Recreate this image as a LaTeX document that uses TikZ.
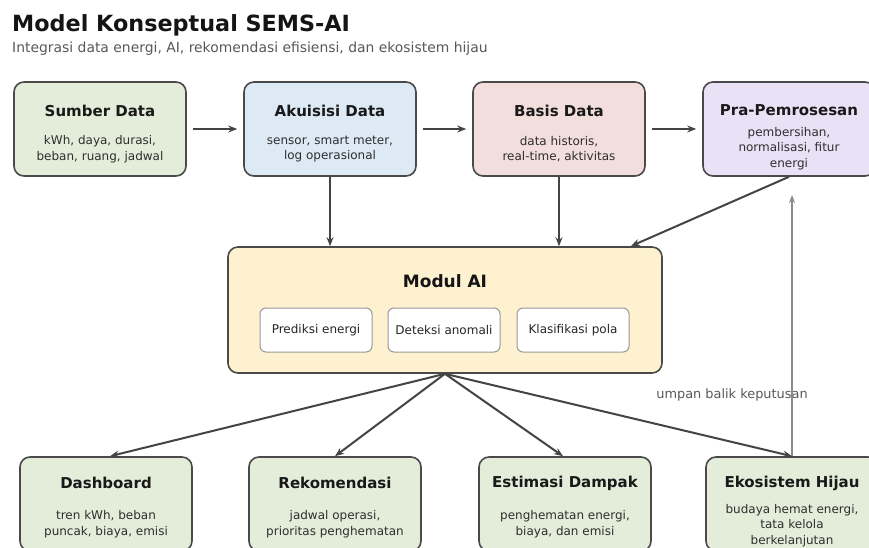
\documentclass[tikz,border=0pt]{standalone}
\usepackage{fontspec}
\setmainfont{DejaVu Sans}
\usetikzlibrary{arrows.meta,calc}
\definecolor{cgreen}{HTML}{E4EDDA}
\definecolor{cblue}{HTML}{DDE9F5}
\definecolor{cpink}{HTML}{F2DEDC}
\definecolor{cpurple}{HTML}{E9E2F6}
\definecolor{cyellow}{HTML}{FDF1CF}
\definecolor{cborder}{HTML}{4A4A4A}
\definecolor{carrow}{HTML}{444444}
\definecolor{cfeed}{HTML}{8A8A8A}
\begin{document}
\begin{tikzpicture}[x=1pt,y=-1pt,
 box/.style={draw=cborder, line width=1.6pt, rounded corners=10pt, minimum width=172pt, minimum height=94pt, inner sep=0pt},
 ttl/.style={font=\fontsize{15}{18}\selectfont\bfseries, text=black!90, inner sep=0pt},
 body/.style={font=\fontsize{12}{15.5}\selectfont, text=black!82, align=center, inner sep=0pt},
 subbox/.style={draw=black!40, line width=1pt, fill=white, rounded corners=6pt, minimum width=112pt, minimum height=44pt, inner sep=0pt, font=\fontsize{12}{14}\selectfont, text=black!85},
 arr/.style={draw=carrow, line width=2pt, -{Stealth[length=9pt,width=7pt]}},
 fb/.style={draw=cfeed, line width=1.6pt, -{Stealth[length=8pt,width=6pt]}},
]
\useasboundingbox (0,0) rectangle (869,548);
\clip (0,0) rectangle (869,548);
\fill[white] (0,0) rectangle (869,548);

% titles
\node[anchor=base west, inner sep=0pt, font=\fontsize{22.3}{26}\selectfont\bfseries, text=black!92] (title) at (12,32) {Model Konseptual SEMS-AI};
\node[anchor=base west, inner sep=0pt, font=\fontsize{13.9}{16}\selectfont, text=black!65] (subtitle) at (12,53) {Integrasi data energi, AI, rekomendasi efisiensi, dan ekosistem hijau};

% top row
\node[box, fill=cgreen] (sumber) at (100,129) {};
\node[ttl] (sumberT) at ($(sumber.north)+(0,30)$) {Sumber Data};
\node[body] (sumberB) at ($(sumber.north)+(0,68)$) {kWh, daya, durasi,\\beban, ruang, jadwal};

\node[box, fill=cblue] (aku) at (330,129) {};
\node[ttl] (akuT) at ($(aku.north)+(0,30)$) {Akuisisi Data};
\node[body] (akuB) at ($(aku.north)+(0,68)$) {sensor, smart meter,\\log operasional};

\node[box, fill=cpink] (basis) at (559,129) {};
\node[ttl] (basisT) at ($(basis.north)+(0,30)$) {Basis Data};
\node[body] (basisB) at ($(basis.north)+(0,68)$) {data historis,\\real-time, aktivitas};

\node[box, fill=cpurple] (pra) at (789,129) {};
\node[ttl] (praT) at ($(pra.north)+(0,29)$) {Pra-Pemrosesan};
\node[body] (praB) at ($(pra.north)+(0,67)$) {pembersihan,\\normalisasi, fitur\\energi};

% AI module
\node[box, fill=cyellow, minimum width=434pt, minimum height=126pt] (ai) at (445,310) {};
\node[inner sep=0pt, font=\fontsize{17}{20}\selectfont\bfseries, text=black!92] (aiT) at (445,281) {Modul AI};
\node[subbox] (pred) at (316,330) {Prediksi energi};
\node[subbox] (det) at (444,330) {Deteksi anomali};
\node[subbox] (kla) at (573,330) {Klasifikasi pola};

% bottom row
\node[box, fill=cgreen] (dash) at (106,504) {};
\node[ttl] (dashT) at ($(dash.north)+(0,27)$) {Dashboard};
\node[body] (dashB) at ($(dash.north)+(0,68)$) {tren kWh, beban\\puncak, biaya, emisi};

\node[box, fill=cgreen] (rek) at (335,504) {};
\node[ttl] (rekT) at ($(rek.north)+(0,27)$) {Rekomendasi};
\node[body] (rekB) at ($(rek.north)+(0,68)$) {jadwal operasi,\\prioritas penghematan};

\node[box, fill=cgreen] (est) at (565,504) {};
\node[ttl] (estT) at ($(est.north)+(0,27)$) {Estimasi Dampak};
\node[body] (estB) at ($(est.north)+(0,68)$) {penghematan energi,\\biaya, dan emisi};

\node[box, fill=cgreen] (eko) at (792,504) {};
\node[ttl] (ekoT) at ($(eko.north)+(0,27)$) {Ekosistem Hijau};
\node[body] (ekoB) at ($(eko.north)+(0,69)$) {budaya hemat energi,\\tata kelola\\berkelanjutan};

% connectors top row
\draw[arr] ($(sumber.east)+(6,0)$) -- ($(aku.west)+(-6,0)$);
\draw[arr] ($(aku.east)+(6,0)$) -- ($(basis.west)+(-6,0)$);
\draw[arr] ($(basis.east)+(6,0)$) -- ($(pra.west)+(-6,0)$);

% into AI
\draw[arr] (aku.south) -- (aku.south |- ai.north);
\draw[arr] (basis.south) -- (basis.south |- ai.north);
\draw[arr] (pra.south) -- ($(ai.north east)+(-32,0)$);

% out of AI
\draw[arr] (ai.south) -- ($(dash.north)+(4,0)$);
\draw[arr] (ai.south) -- (rek.north);
\draw[arr] (ai.south) -- ($(est.north)+(-2,0)$);
\draw[arr] (ai.south) -- (eko.north);

% feedback
\node[inner sep=0pt, font=\fontsize{12.9}{15}\selectfont, text=black!65] (fblabel) at (732,395) {umpan balik keputusan};
\coordinate (fbend) at (792,195);
\draw[fb] (eko.north) -- (fbend);
\end{tikzpicture}
\end{document}
